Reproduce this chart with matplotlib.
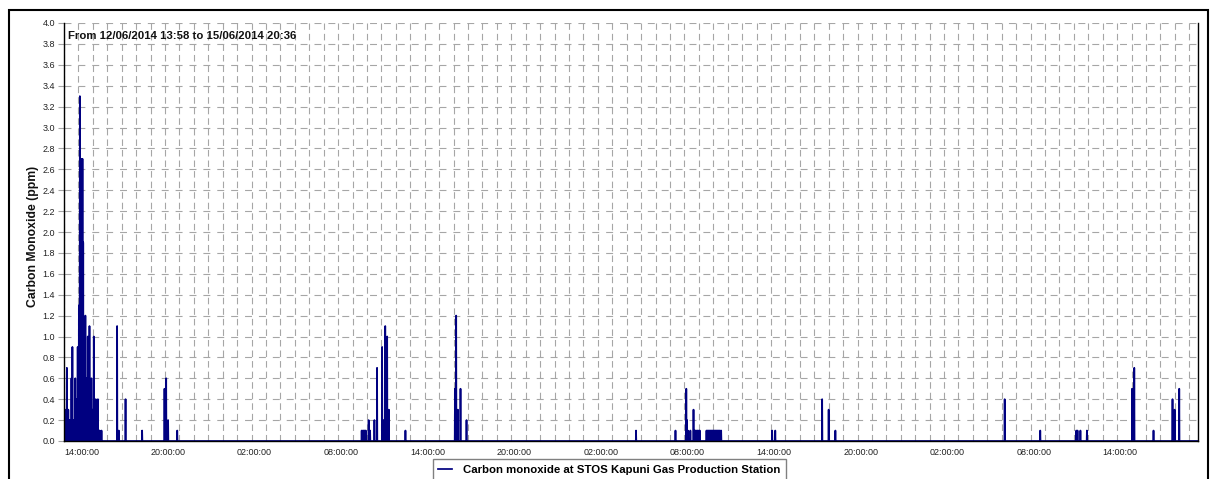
import numpy as np
import pandas as pd
import matplotlib
matplotlib.use('Agg')
import matplotlib.pyplot as plt
from matplotlib.patches import Rectangle

plt.rcParams['font.family'] = ['Liberation Sans', 'DejaVu Sans']
plt.rcParams['lines.scale_dashes'] = False

# periode data
start = '2014-06-12 13:58'
end = '2014-06-15 20:36'

# pembacaan CO (ppm) yang tidak nol, per hari
times_12 = ['13:59', '14:02', '14:04', '14:06', '14:08', '14:10', '14:12', '14:14', '14:18', '14:21',
            '14:23', '14:26', '14:31', '14:33', '14:35', '14:38', '14:40', '14:43', '14:47', '14:50',
            '14:52', '14:55', '14:57', '15:02', '15:06', '15:10', '15:14', '15:17', '15:20', '15:22',
            '15:25', '15:29', '15:34', '15:39', '15:42', '15:46', '15:50', '15:54', '15:57', '16:04',
            '16:08', '16:12', '16:16', '16:21', '16:25', '16:28', '16:36', '17:41', '17:48', '18:16',
            '19:25', '20:58', '21:05', '21:13', '21:51']
ppm_12 = [0.3, 0.3, 0.2, 0.1, 0.3, 0.2, 0.7, 0.2, 0.3, 0.1,
          0.2, 0.2, 0.6, 0.2, 0.9, 0.1, 0.2, 0.2, 0.6, 0.4,
          0.2, 0.4, 0.9, 1.3, 3.3, 1.1, 2.7, 2.7, 1.9, 1.1,
          0.8, 1.2, 0.6, 1.0, 0.4, 1.1, 0.4, 0.6, 0.3, 1.0,
          0.3, 0.4, 0.2, 0.4, 0.1, 0.1, 0.1, 1.1, 0.1, 0.4,
          0.1, 0.5, 0.6, 0.2, 0.1]

times_13 = ['10:38', '10:43', '10:47', '10:51', '10:55', '11:07', '11:13', '11:31', '11:42', '12:03',
            '12:09', '12:16', '12:24', '12:31', '13:40', '17:06', '17:11', '17:18', '17:29', '17:54']
ppm_13 = [0.1, 0.1, 0.1, 0.1, 0.1, 0.2, 0.1, 0.2, 0.7, 0.9,
          0.2, 1.1, 1.0, 0.3, 0.1, 0.5, 1.2, 0.3, 0.5, 0.2]

times_14 = ['05:39', '08:23', '09:08', '09:11', '09:15', '09:25', '09:38', '09:43', '09:47', '09:52',
            '09:56', '10:01', '10:04', '10:32', '10:36', '10:40', '10:44', '10:48', '10:52', '10:56',
            '11:00', '11:04', '11:08', '11:12', '11:16', '11:20', '11:24', '11:28', '11:33', '15:05',
            '15:18', '18:33', '19:00', '19:28']
ppm_14 = [0.1, 0.1, 0.5, 0.2, 0.1, 0.1, 0.3, 0.1, 0.1, 0.1,
          0.1, 0.1, 0.1, 0.1, 0.1, 0.1, 0.1, 0.1, 0.1, 0.1,
          0.1, 0.1, 0.1, 0.1, 0.1, 0.1, 0.1, 0.1, 0.1, 0.1,
          0.1, 0.4, 0.3, 0.1]

times_15 = ['07:12', '09:40', '12:10', '12:15', '12:27', '12:54', '16:02', '16:11', '17:31', '18:50',
            '18:59', '19:18']
ppm_15 = [0.4, 0.1, 0.1, 0.1, 0.1, 0.1, 0.5, 0.7, 0.1, 0.4,
          0.3, 0.5]

# deret per menit, nilai nol di luar pembacaan di atas
idx = pd.date_range(start, end, freq='min')
co = pd.Series(0.0, index=idx)
for day, tl, vl in [('2014-06-12', times_12, ppm_12), ('2014-06-13', times_13, ppm_13),
                    ('2014-06-14', times_14, ppm_14), ('2014-06-15', times_15, ppm_15)]:
    for t, v in zip(tl, vl):
        co[pd.Timestamp(day + ' ' + t)] = v

W, H = 1217, 479
fig = plt.figure(figsize=(W / 100, H / 100), dpi=100)
ax = fig.add_axes([63.5 / W, 1 - 441 / H, (1198 - 63.5) / W, (441 - 23) / H])

ax.plot(co.index, co.values, color='#000080', lw=1.25,
        label='Carbon monoxide at STOS Kapuni Gas Production Station')

ax.set_xlim(pd.Timestamp(start), pd.Timestamp(end))
ax.set_ylim(0, 4.0)

# label tiap 6 jam, grid tiap jam (label terakhir 20:00 tidak muat)
major = pd.date_range('2014-06-12 14:00', '2014-06-15 14:00', freq='6h')
minor = pd.date_range('2014-06-12 14:00', end, freq='h')
ax.set_xticks(minor, minor=True)
ax.set_xticks(major)
ax.set_xticklabels([t.strftime('%H:%M:%S') for t in major], ha='left', fontsize=6.5, color='#222222')
ax.tick_params(axis='x', which='both', length=0, pad=5)

yt = np.arange(0, 4.01, 0.2)
ax.set_yticks(yt)
ax.set_yticklabels(['%.1f' % v for v in yt], fontsize=6.5, color='#222222')
ax.tick_params(axis='y', length=4, color='#a6a6a6', pad=2)

ax.grid(axis='x', which='both', color='#a6a6a6', lw=0.8, linestyle=(0, (4.7, 2.9)))
ax.grid(axis='y', which='major', color='#a6a6a6', lw=0.8, linestyle=(0, (5.0, 5.0)))
ax.set_axisbelow(True)

ax.spines['top'].set_visible(False)
for s in ['left', 'right', 'bottom']:
    ax.spines[s].set_color('black')
    ax.spines[s].set_linewidth(1.0)

fig.text(68 / W, 1 - 36 / H, 'From 12/06/2014 13:58 to 15/06/2014 20:36',
         fontsize=8.2, fontweight='bold', va='center', ha='left', color='#111111')
fig.text(33 / W, 1 - 236 / H, 'Carbon Monoxide (ppm)', rotation=90,
         fontsize=8.8, fontweight='bold', va='center', ha='center', color='#111111')

leg = ax.legend(loc='upper center', bbox_to_anchor=(609.5 / W, 1 - 459 / H),
                bbox_transform=fig.transFigure, fancybox=False, framealpha=1,
                edgecolor='#808080', prop={'size': 8.2, 'weight': 'bold'},
                handlelength=1.2, handletextpad=1.0, borderpad=0.5, borderaxespad=0)
leg.get_frame().set_linewidth(1.0)

# bingkai luar
fig.patches.append(Rectangle((9 / W, -0.2), (1208 - 9) / W, 1.2 - 10 / H, fill=False,
                             edgecolor='black', lw=1.5, transform=fig.transFigure))

fig.savefig('out.png', dpi=100)
